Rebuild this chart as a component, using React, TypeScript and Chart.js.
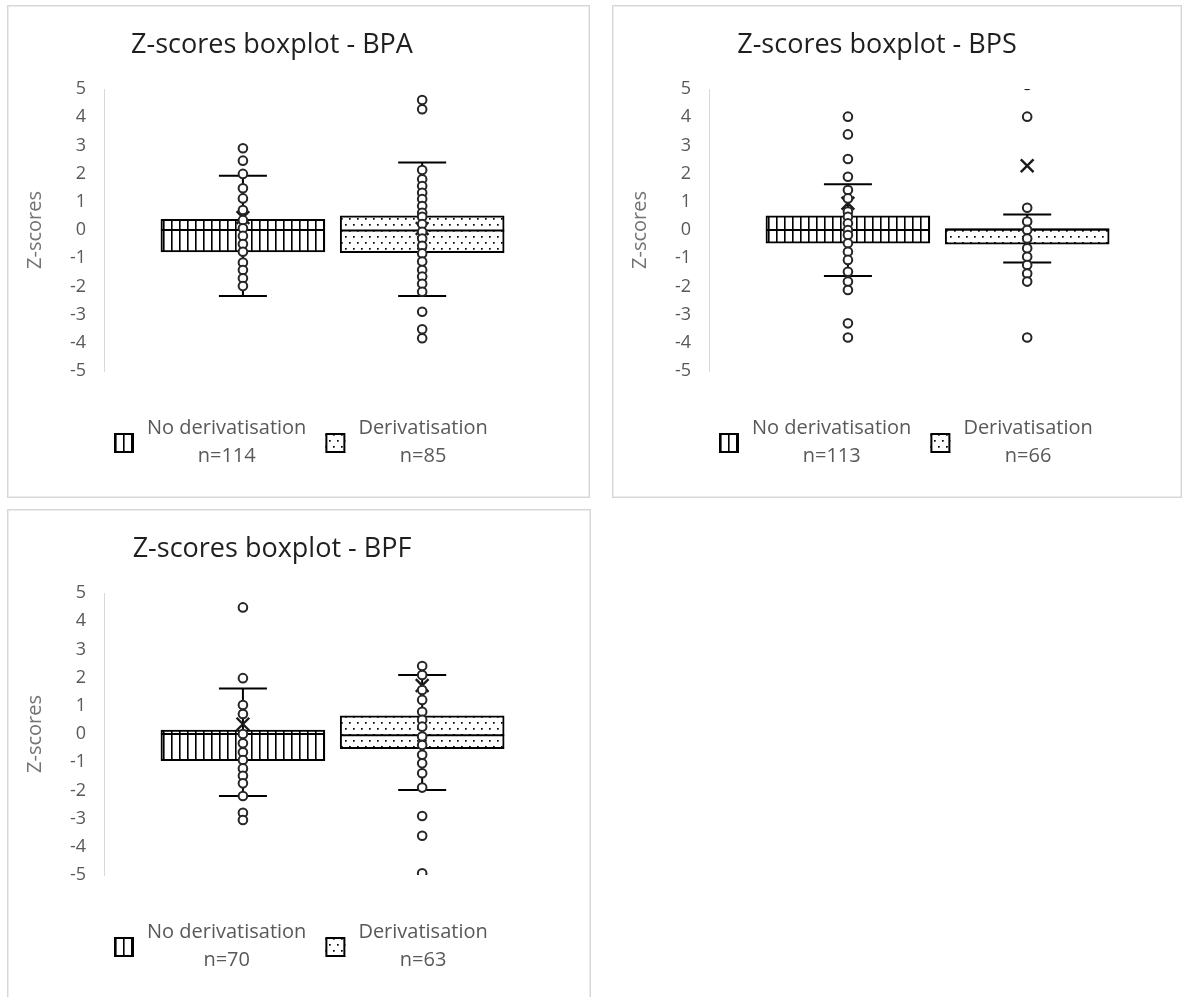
import React, { useEffect, useRef } from 'react';
import { Chart, registerables } from 'chart.js';

Chart.register(...registerables);

// ---------- data ----------
const seriesLabels = ['No derivatisation', 'Derivatisation'];
const groupPositions = [1, 2];
const chartTitles = ['Z-scores boxplot - BPA', 'Z-scores boxplot - BPS', 'Z-scores boxplot - BPF'];
const axisTitle = 'Z-scores';
const yMin = -5;
const yMax = 5;
const yStep = 1;

// box stats: [lower whisker, Q1, median, Q3, upper whisker]
const bpaNoDerivN = 114;
const bpaNoDerivBox = [-2.34, -0.78, 0.0, 0.38, 1.92];
const bpaNoDerivMean = 0.44;
const bpaNoDerivPoints = [2.9, 2.46, 1.99, 1.48, 1.12, 0.71, 0.35, 0.06, -0.21, -0.5, -0.77, -1.15, -1.42, -1.71, -1.99];

const bpaDerivN = 85;
const bpaDerivBox = [-2.34, -0.8, -0.02, 0.5, 2.39];
const bpaDerivMean = 0.05;
const bpaDerivPoints = [4.61, 4.28, 2.13, 1.8, 1.56, 1.32, 1.1, 0.85, 0.61, 0.47, 0.21, -0.06, -0.3, -0.56, -0.83, -1.12, -1.42, -1.65, -1.91, -2.19, -2.9, -3.52, -3.84];

const bpsNoDerivN = 113;
const bpsNoDerivBox = [-1.63, -0.47, 0.0, 0.5, 1.62];
const bpsNoDerivMean = 0.95;
const bpsNoDerivPoints = [4.02, 3.39, 2.52, 1.89, 1.42, 1.12, 0.65, 0.47, 0.24, 0.0, -0.18, -0.47, -0.77, -1.06, -1.48, -1.83, -2.13, -3.31, -3.81];

const bpsDerivN = 66;
const bpsDerivBox = [-1.15, -0.5, 0.02, 0.04, 0.55];
const bpsDerivMean = 2.28;
const bpsDerivPoints = [5.14, 4.02, 0.79, 0.3, 0.0, -0.3, -0.65, -0.95, -1.24, -1.54, -1.83, -3.81];

const bpfNoDerivN = 70;
const bpfNoDerivBox = [-2.2, -0.95, 0.0, 0.14, 1.61];
const bpfNoDerivMean = 0.35;
const bpfNoDerivPoints = [4.49, 1.98, 1.03, 0.71, 0.0, -0.33, -0.65, -0.92, -1.22, -1.48, -1.75, -2.2, -2.79, -3.05];

const bpfDerivN = 63;
const bpfDerivBox = [-1.99, -0.52, -0.04, 0.64, 2.09];
const bpfDerivMean = 1.72;
const bpfDerivPoints = [2.41, 2.09, 1.56, 1.21, 0.79, 0.5, 0.26, -0.09, -0.39, -0.74, -1.04, -1.39, -1.9, -2.91, -3.61, -4.94];

type Group = { n: number; box: number[]; mean: number; points: number[] };
type Panel = { title: string; groups: Group[] };

const panels: Panel[] = [
  {
    title: chartTitles[0],
    groups: [
      { n: bpaNoDerivN, box: bpaNoDerivBox, mean: bpaNoDerivMean, points: bpaNoDerivPoints },
      { n: bpaDerivN, box: bpaDerivBox, mean: bpaDerivMean, points: bpaDerivPoints },
    ],
  },
  {
    title: chartTitles[1],
    groups: [
      { n: bpsNoDerivN, box: bpsNoDerivBox, mean: bpsNoDerivMean, points: bpsNoDerivPoints },
      { n: bpsDerivN, box: bpsDerivBox, mean: bpsDerivMean, points: bpsDerivPoints },
    ],
  },
  {
    title: chartTitles[2],
    groups: [
      { n: bpfNoDerivN, box: bpfNoDerivBox, mean: bpfNoDerivMean, points: bpfNoDerivPoints },
      { n: bpfDerivN, box: bpfDerivBox, mean: bpfDerivMean, points: bpfDerivPoints },
    ],
  },
];

// ---------- layout / style ----------
const FONT = '"Open Sans", "DejaVu Sans", sans-serif';
const CANVAS_W = 528;
const CANVAS_H = 491;
const panelFrames = [
  { left: 7, top: 5, width: 583, height: 493 },
  { left: 612, top: 5, width: 570, height: 493 },
  { left: 7, top: 509, width: 584, height: 493 },
];

function makeStripePattern(): CanvasPattern | string {
  const c = document.createElement('canvas');
  c.width = 8;
  c.height = 8;
  const g = c.getContext('2d')!;
  g.fillStyle = '#ffffff';
  g.fillRect(0, 0, 8, 8);
  g.fillStyle = '#000000';
  g.fillRect(3, 0, 1.6, 8);
  return g.createPattern(c, 'repeat') || '#ffffff';
}

function makeDotPattern(): CanvasPattern | string {
  const c = document.createElement('canvas');
  c.width = 8;
  c.height = 12;
  const g = c.getContext('2d')!;
  g.fillStyle = '#ffffff';
  g.fillRect(0, 0, 8, 12);
  g.fillStyle = '#000000';
  g.fillRect(1, 2, 1.7, 1.7);
  g.fillRect(5, 8, 1.7, 1.7);
  return g.createPattern(c, 'repeat') || '#ffffff';
}

const whiskerPlugin = {
  id: 'whiskerPlugin',
  afterDatasetDraw(chart: any, args: any, opts: any) {
    const ds = chart.data.datasets[args.index];
    if (!ds.boxStats) return;
    const el = args.meta.data[0];
    if (!el) return;
    const { x, width } = el.getProps(['x', 'width'], true);
    const ys = chart.scales.y;
    const [lo, q1, med, q3, hi] = ds.boxStats.map((v: number) => ys.getPixelForValue(v));
    const cap = opts.capWidth / 2;
    const ctx = chart.ctx;
    ctx.save();
    ctx.strokeStyle = '#000000';
    ctx.lineWidth = 2;
    ctx.beginPath();
    ctx.moveTo(x - width / 2, med);
    ctx.lineTo(x + width / 2, med);
    ctx.moveTo(x, q3);
    ctx.lineTo(x, hi);
    ctx.moveTo(x - cap, hi);
    ctx.lineTo(x + cap, hi);
    ctx.moveTo(x, q1);
    ctx.lineTo(x, lo);
    ctx.moveTo(x - cap, lo);
    ctx.lineTo(x + cap, lo);
    ctx.stroke();
    ctx.restore();
  },
};

const twoLineLegend = {
  id: 'twoLineLegend',
  afterDraw(chart: any, _args: any, opts: any) {
    const ctx = chart.ctx;
    const items = chart.data.datasets.filter((d: any) => d.legendLines);
    ctx.save();
    ctx.font = `${opts.fontSize}px ${FONT}`;
    const widths = items.map((d: any) => Math.max(...d.legendLines.map((l: string) => ctx.measureText(l).width)));
    const box = opts.boxSize;
    const gap = opts.textGap;
    let total = 0;
    widths.forEach((w: number, i: number) => {
      total += box + gap + w + (i > 0 ? opts.itemGap : 0);
    });
    let x = Math.round(opts.centerX - total / 2);
    items.forEach((d: any, i: number) => {
      ctx.fillStyle = d.backgroundColor;
      ctx.fillRect(x, opts.boxTop, box, box);
      ctx.strokeStyle = '#000000';
      ctx.lineWidth = 2;
      ctx.strokeRect(x + 1, opts.boxTop + 1, box - 2, box - 2);
      const cx = x + box + gap + widths[i] / 2;
      ctx.fillStyle = opts.color;
      ctx.textAlign = 'center';
      ctx.textBaseline = 'middle';
      d.legendLines.forEach((line: string, j: number) => ctx.fillText(line, cx, opts.lineY[j]));
      x += box + gap + widths[i] + opts.itemGap;
    });
    ctx.restore();
  },
};

function buildConfig(panel: Panel): any {
  const patterns = [makeStripePattern(), makeDotPattern()];
  const boxSets = panel.groups.map((g, i) => ({
    type: 'bar',
    label: seriesLabels[i],
    legendLines: [seriesLabels[i], `n=${g.n}`],
    boxStats: g.box,
    data: [{ x: groupPositions[i], y: [g.box[1], g.box[3]] }],
    backgroundColor: patterns[i],
    borderColor: '#000000',
    borderWidth: 2,
    borderSkipped: false,
    grouped: false,
    barThickness: 164,
    order: 3,
  }));
  const pointSets = panel.groups.map((g, i) => ({
    type: 'scatter',
    label: seriesLabels[i] + ' points',
    data: g.points.map((v) => ({ x: groupPositions[i], y: v })),
    pointStyle: 'circle',
    pointRadius: 4.3,
    pointBorderWidth: 2,
    pointBorderColor: '#262626',
    pointBackgroundColor: '#ffffff',
    order: 1,
  }));
  const meanSets = panel.groups.map((g, i) => ({
    type: 'scatter',
    label: seriesLabels[i] + ' mean',
    data: [{ x: groupPositions[i], y: g.mean }],
    pointStyle: 'crossRot',
    pointRadius: 9,
    pointBorderWidth: 2.4,
    pointBorderColor: '#1a1a1a',
    order: 2,
  }));
  return {
    type: 'bar',
    data: { datasets: [...boxSets, ...pointSets, ...meanSets] },
    plugins: [whiskerPlugin, twoLineLegend],
    options: {
      animation: false,
      responsive: false,
      events: [],
      layout: { autoPadding: false, padding: { left: 0, right: 0, top: 0, bottom: 126 } },
      font: { family: FONT },
      scales: {
        x: { type: 'linear', min: 0.225, max: 2.635, offset: false, display: false },
        y: {
          min: yMin,
          max: yMax,
          ticks: { stepSize: yStep, color: '#595959', font: { family: FONT, size: 18 }, padding: 18 },
          grid: { display: false, drawTicks: false },
          border: { display: true, color: '#d9d9d9', width: 1 },
          title: {
            display: true,
            text: axisTitle,
            color: '#737373',
            font: { family: FONT, size: 20 },
            padding: { top: 15, bottom: 0 },
          },
          afterFit: (s: any) => {
            s.width = 96;
          },
        },
      },
      plugins: {
        legend: { display: false },
        tooltip: { enabled: false },
        title: {
          display: true,
          text: panel.title,
          color: '#1f1f1f',
          font: { family: FONT, size: 27, weight: 'normal' },
          padding: { top: 23, bottom: 27.6 },
        },
        whiskerPlugin: { capWidth: 48 },
        twoLineLegend: {
          fontSize: 20,
          color: '#595959',
          boxSize: 20,
          textGap: 13,
          itemGap: 19,
          centerX: 293,
          boxTop: 427,
          lineY: [422, 450],
        },
      },
    },
  };
}

function BoxPanel({ panel, frame }: { panel: Panel; frame: any }) {
  const ref = useRef<HTMLCanvasElement>(null);
  useEffect(() => {
    const chart = new Chart(ref.current as HTMLCanvasElement, buildConfig(panel));
    return () => chart.destroy();
  }, [panel]);
  return (
    <div
      style={{
        position: 'absolute',
        left: frame.left,
        top: frame.top,
        width: frame.width,
        height: frame.height,
        boxSizing: 'border-box',
        border: '1px solid #d6d6d6',
        boxShadow: 'inset 1px 1px 0 #ececec, inset -1px -1px 0 #ececec',
        background: '#ffffff',
      }}
    >
      <canvas ref={ref} width={CANVAS_W} height={CANVAS_H} style={{ display: 'block' }} />
    </div>
  );
}

export default function App() {
  return (
    <div
      style={{
        position: 'absolute',
        left: 0,
        top: 0,
        width: 1189,
        height: 997,
        overflow: 'hidden',
        background: '#ffffff',
      }}
    >
      {panels.map((p, i) => (
        <BoxPanel key={i} panel={p} frame={panelFrames[i]} />
      ))}
    </div>
  );
}
